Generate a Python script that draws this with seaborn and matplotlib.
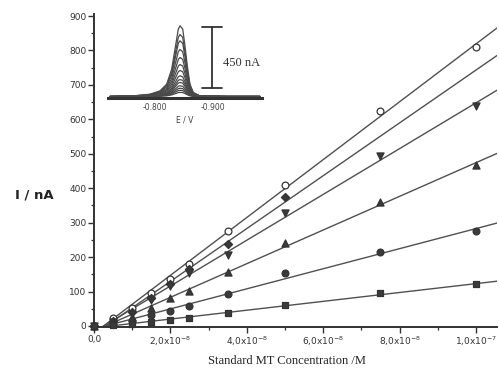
import numpy as np
import pandas as pd
import matplotlib
matplotlib.use("Agg")
import matplotlib.pyplot as plt
import matplotlib.ticker as mticker
import seaborn as sns

# ---------------- data ----------------
conc = [0.0, 0.5e-8, 1.0e-8, 1.5e-8, 2.0e-8, 2.5e-8, 3.5e-8, 5.0e-8, 7.5e-8, 1.0e-7]
s_open_circle = [0, 24, 53, 95, 136, 179, 275, 409, 623, 810]
s_diamond = [0, 15, 42, 81, 122, 164, 237, 375]
s_down_tri = [0, 12, 35, 75, 117, 154, 206, 327, 494, 638]
s_up_tri = [0, 8, 25, 53, 80, 101, 157, 240, 360, 467]
s_circle = [0, 5, 15, 32, 43, 58, 93, 153, 215, 275]
s_square = [0, 2, 5, 12, 17, 24, 37, 61, 95, 121]

xtick_vals = [0.0, 2e-8, 4e-8, 6e-8, 8e-8, 1e-7]
xtick_labels = ["0,0", "2,0x10$^{-8}$", "4,0x10$^{-8}$", "6,0x10$^{-8}$",
                "8,0x10$^{-8}$", "1,0x10$^{-7}$"]
ytick_vals = [0, 100, 200, 300, 400, 500, 600, 700, 800, 900]

# inset voltammogram: normalized peak shape
inset_E = [-0.7224, -0.7626, -0.7914, -0.8086, -0.8202, -0.8288, -0.8345, -0.8402,
           -0.8431, -0.8478, -0.8517, -0.8557, -0.8603, -0.8660, -0.8776, -0.9236, -0.9810]
inset_shape = [0.0, 0.009, 0.033, 0.08, 0.175, 0.387, 0.67, 0.953,
               1.0, 0.953, 0.717, 0.434, 0.175, 0.057, 0.009, 0.0, 0.0]
inset_heights = [513, 450, 404, 341, 283, 232, 189, 150, 123, 102, 78, 60, 45, 30]

# ---------------- figure ----------------
sns.set_style("white")
plt.rcParams["font.family"] = ["DejaVu Sans"]

fig = plt.figure(figsize=(4.99, 3.69), dpi=100)
ax = fig.add_axes([94 / 499, 1 - 327 / 369, 403 / 499, 313 / 369])
XMAX = 1.055e-7
ax.set_xlim(0, XMAX)
ax.set_ylim(-3, 906)

series = [
    (s_open_circle, "o", "white", 24),
    (s_diamond, "D", "#3a3a3a", 17),
    (s_down_tri, "v", "#3a3a3a", 26),
    (s_up_tri, "^", "#3a3a3a", 26),
    (s_circle, "o", "#3a3a3a", 24),
    (s_square, "s", "#3a3a3a", 20),
]
line_col = "#505050"
for vals, mk, fc, sz in series:
    df = pd.DataFrame({"c": conc[:len(vals)], "i": vals})
    sns.regplot(data=df, x="c", y="i", ax=ax, ci=None, truncate=False,
                scatter=False, line_kws=dict(color=line_col, lw=1.0, zorder=2))
    sns.scatterplot(data=df, x="c", y="i", ax=ax, marker=mk, s=sz, color=fc,
                    edgecolor="#333333", linewidth=0.9, clip_on=False, zorder=3)

ax.set_xlim(0, XMAX)
ax.set_ylim(-3, 906)

sns.despine(ax=ax)
for sp in ["left", "bottom"]:
    ax.spines[sp].set_color("#333333")
    ax.spines[sp].set_linewidth(1.4)

ax.set_xticks(xtick_vals)
ax.set_xticklabels(xtick_labels)
ax.xaxis.set_minor_locator(mticker.MultipleLocator(1e-8))
ax.set_yticks(ytick_vals)
ax.set_yticklabels([str(v) for v in ytick_vals])
ax.yaxis.set_minor_locator(mticker.MultipleLocator(50))
ax.tick_params(which="major", direction="out", length=4, width=1.0,
               color="#333333", labelsize=6.5, labelcolor="#333333", pad=1.5,
               bottom=True, left=True)
ax.tick_params(which="minor", direction="out", length=2.5, width=0.9,
               color="#333333", bottom=True, left=True)

ax.set_xlabel("Standard MT Concentration /M", family="Liberation Serif",
              fontsize=9, color="#222222")
ax.xaxis.set_label_coords(0.479, -0.089)
ax.set_ylabel("I / nA", rotation=0, fontsize=9.5, color="#222222", weight="bold")
ax.yaxis.set_label_coords(-0.149, 0.40)

# ---------------- inset ----------------
axi = fig.add_axes([108 / 499, 1 - 97.9 / 369, 154 / 499, 78.6 / 369])
axi.patch.set_alpha(0)
rows = []
for k, h in enumerate(inset_heights):
    for e, s in zip(inset_E, inset_shape):
        rows.append({"E": e, "I": s * h, "curve": k})
idf = pd.DataFrame(rows)
sns.lineplot(data=idf, x="E", y="I", units="curve", estimator=None,
             color="#4a4a4a", lw=0.9, ax=axi, sort=False)
axi.set_xlim(-0.719, -0.9845)
axi.set_ylim(-10, 560)
for sp in ["top", "right", "left"]:
    axi.spines[sp].set_visible(False)
axi.spines["bottom"].set_linewidth(2.2)
axi.spines["bottom"].set_color("#333333")
axi.set_yticks([])
axi.set_xticks([-0.75, -0.80, -0.85, -0.90, -0.95])
axi.set_xticklabels(["", "-0.800", "", "-0.900", ""])
axi.tick_params(axis="x", direction="out", length=2.5, width=0.8,
                color="#333333", labelsize=5.5, labelcolor="#444444", pad=1.5)
axi.set_xlabel("E / V", fontsize=5.5, color="#444444", labelpad=2)
axi.set_ylabel("")

# scale bar
bx = -0.8978
axi.plot([bx, bx], [65, 505], color="#333333", lw=1.3, clip_on=False)
axi.plot([bx - 0.017, bx + 0.017], [505, 505], color="#333333", lw=1.3, clip_on=False)
axi.plot([bx - 0.017, bx + 0.017], [65, 65], color="#333333", lw=1.3, clip_on=False)
axi.text(-0.918, 240, "450 nA", family="Liberation Serif", fontsize=9,
         color="#333333", va="center", ha="left", clip_on=False)

fig.savefig("out.png", dpi=100)
